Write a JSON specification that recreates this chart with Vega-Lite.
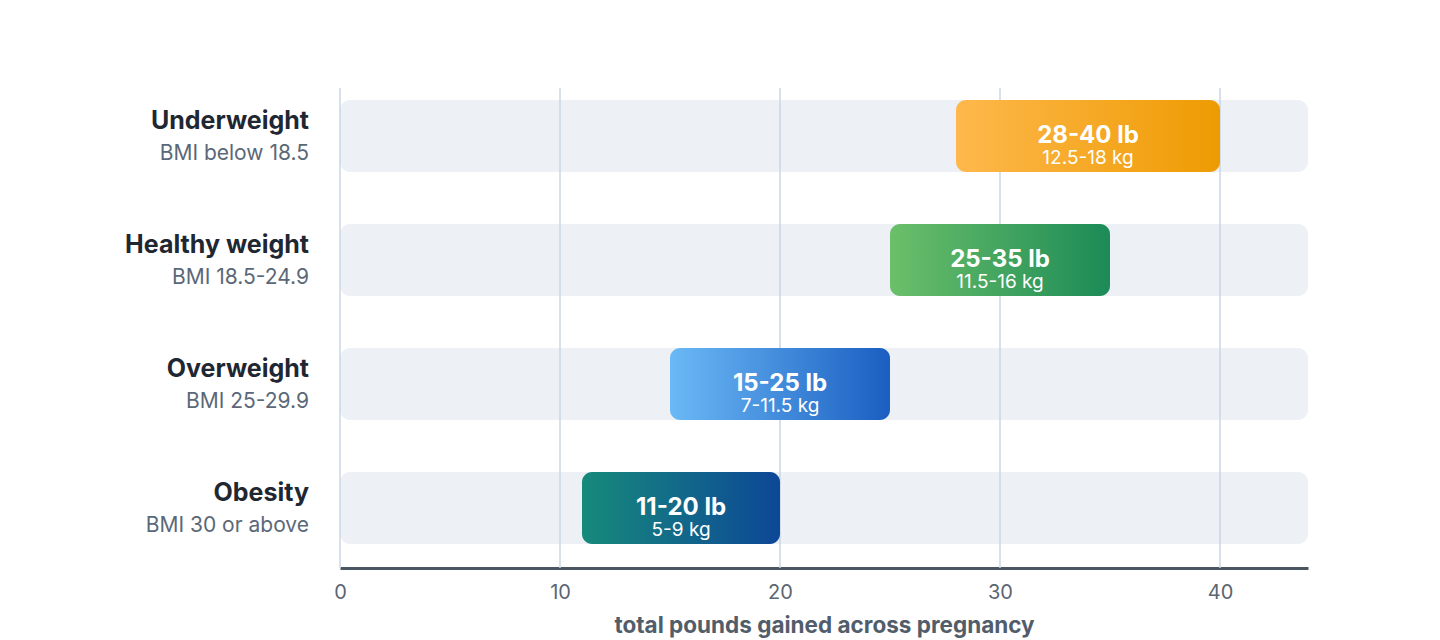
{
  "$schema": "https://vega.github.io/schema/vega-lite/v6.json",
  "width": 968,
  "height": 480,
  "autosize": "none",
  "padding": {"left": 340, "top": 88, "right": 132, "bottom": 72},
  "background": "#ffffff",
  "config": {
    "view": {"stroke": null},
    "font": "Inter"
  },
  "data": {
    "values": [
      {"category": "Underweight", "bmi": "BMI below 18.5", "lo": 28, "hi": 40, "lb": "28-40 lb", "kg": "12.5-18 kg"},
      {"category": "Healthy weight", "bmi": "BMI 18.5-24.9", "lo": 25, "hi": 35, "lb": "25-35 lb", "kg": "11.5-16 kg"},
      {"category": "Overweight", "bmi": "BMI 25-29.9", "lo": 15, "hi": 25, "lb": "15-25 lb", "kg": "7-11.5 kg"},
      {"category": "Obesity", "bmi": "BMI 30 or above", "lo": 11, "hi": 20, "lb": "11-20 lb", "kg": "5-9 kg"}
    ]
  },
  "transform": [{"calculate": "(datum.lo + datum.hi) / 2", "as": "mid"}],
  "layer": [
    {
      "mark": {"type": "bar", "color": "#edf0f5", "cornerRadius": 10},
      "encoding": {
        "y": {
          "field": "category",
          "type": "nominal",
          "scale": {
            "domain": ["Underweight", "Healthy weight", "Overweight", "Obesity"],
            "range": [-14, 482],
            "paddingInner": 0.419,
            "paddingOuter": 0.2097
          },
          "axis": null
        },
        "x": {
          "datum": 0,
          "type": "quantitative",
          "scale": {"domain": [0, 44], "nice": false, "zero": true},
          "axis": {
            "values": [0, 10, 20, 30, 40],
            "grid": false,
            "ticks": false,
            "domainColor": "#4b5663",
            "domainWidth": 3,
            "labelFontSize": 20,
            "labelColor": "#5b6573",
            "labelPadding": 14,
            "labelFlush": false,
            "labelFont": "Inter",
            "title": "total pounds gained across pregnancy",
            "titleFontSize": 22.5,
            "titleFontWeight": "bold",
            "titleColor": "#525d6b",
            "titleFont": "Inter",
            "titlePadding": 12
          }
        },
        "x2": {"datum": 44}
      }
    },
    {
      "data": {"values": [{"tick": 0}, {"tick": 10}, {"tick": 20}, {"tick": 30}, {"tick": 40}]},
      "transform": [],
      "mark": {"type": "rule", "color": "#c9d7e5", "strokeWidth": 1.5},
      "encoding": {"x": {"field": "tick", "type": "quantitative"}}
    },
    {
      "transform": [{"filter": "datum.category === 'Underweight'"}],
      "mark": {
        "type": "bar", "cornerRadius": 10,
        "color": {"gradient": "linear", "x1": 0, "x2": 1, "y1": 0, "y2": 0,
          "stops": [{"offset": 0, "color": "#feb84c"}, {"offset": 1, "color": "#ee9b02"}]}
      },
      "encoding": {
        "y": {"field": "category", "type": "nominal"},
        "x": {"field": "lo", "type": "quantitative"},
        "x2": {"field": "hi"}
      }
    },
    {
      "transform": [{"filter": "datum.category === 'Healthy weight'"}],
      "mark": {
        "type": "bar", "cornerRadius": 10,
        "color": {"gradient": "linear", "x1": 0, "x2": 1, "y1": 0, "y2": 0,
          "stops": [{"offset": 0, "color": "#6bbf69"}, {"offset": 1, "color": "#1c8b57"}]}
      },
      "encoding": {
        "y": {"field": "category", "type": "nominal"},
        "x": {"field": "lo", "type": "quantitative"},
        "x2": {"field": "hi"}
      }
    },
    {
      "transform": [{"filter": "datum.category === 'Overweight'"}],
      "mark": {
        "type": "bar", "cornerRadius": 10,
        "color": {"gradient": "linear", "x1": 0, "x2": 1, "y1": 0, "y2": 0,
          "stops": [{"offset": 0, "color": "#6bb9f6"}, {"offset": 1, "color": "#1a5ec1"}]}
      },
      "encoding": {
        "y": {"field": "category", "type": "nominal"},
        "x": {"field": "lo", "type": "quantitative"},
        "x2": {"field": "hi"}
      }
    },
    {
      "transform": [{"filter": "datum.category === 'Obesity'"}],
      "mark": {
        "type": "bar", "cornerRadius": 10,
        "color": {"gradient": "linear", "x1": 0, "x2": 1, "y1": 0, "y2": 0,
          "stops": [{"offset": 0, "color": "#178a7b"}, {"offset": 1, "color": "#0d4797"}]}
      },
      "encoding": {
        "y": {"field": "category", "type": "nominal"},
        "x": {"field": "lo", "type": "quantitative"},
        "x2": {"field": "hi"}
      }
    },
    {
      "mark": {"type": "text", "color": "#ffffff", "font": "Inter", "fontSize": 24, "fontWeight": "bold", "baseline": "alphabetic", "align": "center", "dy": 7},
      "encoding": {
        "y": {"field": "category", "type": "nominal"},
        "x": {"field": "mid", "type": "quantitative"},
        "text": {"field": "lb"}
      }
    },
    {
      "mark": {"type": "text", "color": "#ffffff", "font": "Inter", "fontSize": 19, "baseline": "alphabetic", "align": "center", "dy": 28},
      "encoding": {
        "y": {"field": "category", "type": "nominal"},
        "x": {"field": "mid", "type": "quantitative"},
        "text": {"field": "kg"}
      }
    },
    {
      "mark": {"type": "text", "color": "#1f2733", "font": "Inter", "fontSize": 25, "fontWeight": "bold", "baseline": "alphabetic", "align": "right", "dx": -31, "dy": -7},
      "encoding": {
        "y": {"field": "category", "type": "nominal"},
        "x": {"datum": 0, "type": "quantitative"},
        "text": {"field": "category"}
      }
    },
    {
      "mark": {"type": "text", "color": "#5b6878", "font": "Inter", "fontSize": 21, "baseline": "alphabetic", "align": "right", "dx": -31, "dy": 24},
      "encoding": {
        "y": {"field": "category", "type": "nominal"},
        "x": {"datum": 0, "type": "quantitative"},
        "text": {"field": "bmi"}
      }
    }
  ]
}
